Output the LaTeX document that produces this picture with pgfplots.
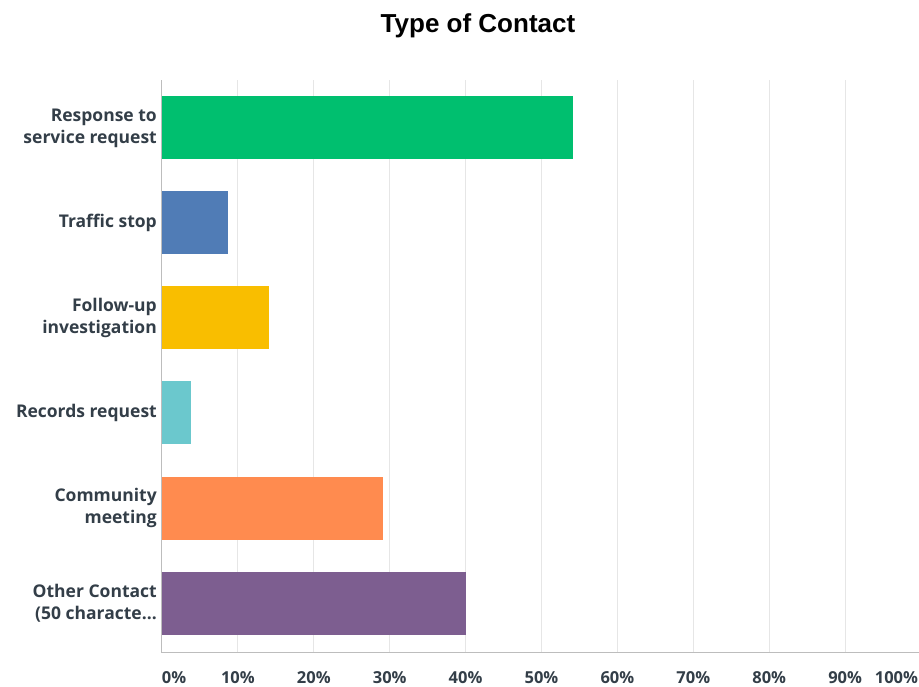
\documentclass[border=0pt]{standalone}
\usepackage{fontspec}
\setmainfont{Open Sans}
\newfontfamily\titlefont{Liberation Sans}
\usepackage{pgfplots}
\pgfplotsset{compat=1.18}
\usetikzlibrary{calc}
\definecolor{lab}{HTML}{333E48}
\definecolor{cgreen}{HTML}{00BF6F}
\definecolor{cblue}{HTML}{507CB6}
\definecolor{cyellow}{HTML}{F9BE00}
\definecolor{cteal}{HTML}{6BC8CD}
\definecolor{corange}{HTML}{FF8B4F}
\definecolor{cpurple}{HTML}{7D5E90}
\definecolor{gridc}{HTML}{E6E6E6}
\definecolor{axc}{HTML}{BDBDBD}
\begin{document}
\begin{tikzpicture}
\begin{axis}[
  scale only axis, width=759pt, height=573pt,
  xmin=0, xmax=100, ymin=-0.526, ymax=5.505,
  axis x line*=bottom, axis y line*=left,
  axis line style={draw=axc, line width=1pt, -},
  xmajorgrids, grid style={draw=gridc, line width=1pt},
  major tick length=0pt,
  xtick={0,10,...,100},
  xticklabels={\makebox[0pt][l]{0\%},10\%,20\%,30\%,40\%,50\%,60\%,70\%,80\%,90\%,\makebox[0pt][r]{100\%\hspace{3pt}}},
  xticklabel style={anchor=north, inner sep=0pt, yshift=-18pt, text=lab, font=\fontsize{16.5}{20}\selectfont\bfseries},
  ytick={0,1,2,3,4,5},
  yticklabels={{Other Contact\\(50 characte\dots},{Community\\meeting},{Records request},{Follow-up\\investigation},{Traffic stop},{Response to\\service request}},
  yticklabel style={align=right, anchor=east, inner sep=0pt, xshift=-5pt, text=lab, font=\fontsize{17.5}{22}\selectfont\bfseries},
]
\coordinate (SW) at (rel axis cs:0,0);
\addplot[xbar, bar width=63pt, bar shift=0pt, fill=cgreen, draw=none] coordinates {(54.2,5)};
\addplot[xbar, bar width=63pt, bar shift=0pt, fill=cblue, draw=none] coordinates {(8.7,4)};
\addplot[xbar, bar width=63pt, bar shift=0pt, fill=cyellow, draw=none] coordinates {(14.1,3)};
\addplot[xbar, bar width=63pt, bar shift=0pt, fill=cteal, draw=none] coordinates {(3.8,2)};
\addplot[xbar, bar width=63pt, bar shift=0pt, fill=corange, draw=none] coordinates {(29.1,1)};
\addplot[xbar, bar width=63pt, bar shift=0pt, fill=cpurple, draw=none] coordinates {(40.0,0)};
\end{axis}
\node[anchor=base, inner sep=0pt, font=\titlefont\bfseries\fontsize{26}{30}\selectfont] at ($(SW)+(316pt,620pt)$) {Type of Contact};
\pgfresetboundingbox
\path ($(SW)+(-162pt,-34pt)$) rectangle ($(SW)+(757pt,653pt)$);
\end{tikzpicture}
\end{document}
